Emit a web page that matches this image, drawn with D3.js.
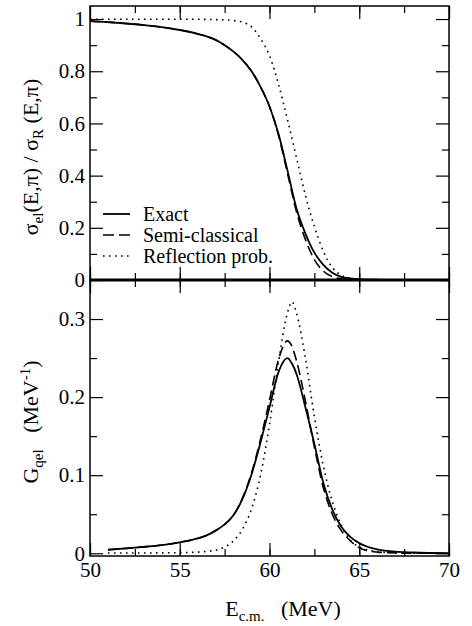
<!DOCTYPE html>
<html lang="en">
<head>
    <meta charset="UTF-8">
    <script src="https://d3js.org/d3.v7.min.js"></script>
    <title>Elastic and quasi-elastic</title>
    <style>
        body { margin: 0; background: #fff; }
        text { font-family: "Liberation Serif", "Times New Roman", serif; fill: #000; }
    </style>
</head>
<body>
    <div id="chart"></div>
    <script>
        // Top panel: sigma_el / sigma_R vs E
        const energyTop = [50, 51, 52, 53, 54, 55, 56, 57, 57.5, 58, 58.5, 59, 59.5, 60, 60.5, 61, 61.5, 62, 62.5, 63, 63.5, 64, 64.5, 65, 66, 67, 68, 70];
        const exactTop = [0.992, 0.988, 0.983, 0.977, 0.969, 0.958, 0.943, 0.92, 0.9, 0.875, 0.843, 0.80, 0.74, 0.665, 0.56, 0.42, 0.275, 0.178, 0.105, 0.058, 0.028, 0.012, 0.006, 0.003, 0.001, 0.0005, 0, 0];
        const semiTop = [0.992, 0.988, 0.983, 0.977, 0.969, 0.958, 0.943, 0.92, 0.9, 0.875, 0.843, 0.80, 0.74, 0.665, 0.555, 0.41, 0.262, 0.155, 0.078, 0.034, 0.013, 0.005, 0.002, 0.001, 0, 0, 0, 0];
        const reflTop = [0.999, 0.999, 0.999, 0.999, 0.999, 0.999, 0.999, 0.998, 0.997, 0.994, 0.988, 0.97, 0.925, 0.86, 0.75, 0.615, 0.47, 0.325, 0.205, 0.11, 0.048, 0.018, 0.006, 0.002, 0.0005, 0, 0, 0];

        // Bottom panel: G_qel vs E
        const energyBot = [51, 52, 53, 54, 55, 56, 56.5, 57, 57.5, 58, 58.5, 59, 59.5, 60, 60.5, 61, 61.25, 61.5, 62, 62.5, 63, 63.5, 64, 64.5, 65, 65.5, 66, 67, 68, 70];
        const exactBot = [0.0045, 0.0062, 0.0082, 0.0105, 0.014, 0.019, 0.023, 0.029, 0.037, 0.049, 0.07, 0.101, 0.142, 0.187, 0.232, 0.25, 0.243, 0.23, 0.187, 0.14, 0.09, 0.056, 0.034, 0.021, 0.013, 0.008, 0.005, 0.002, 0.001, 0];
        const semiBot = [0.0045, 0.0062, 0.0082, 0.0105, 0.014, 0.019, 0.023, 0.029, 0.037, 0.049, 0.071, 0.103, 0.146, 0.196, 0.248, 0.272, 0.265, 0.247, 0.195, 0.136, 0.084, 0.05, 0.029, 0.016, 0.007, 0.003, 0.0015, 0.0005, 0, 0];
        const reflBot = [0.0003, 0.0003, 0.0004, 0.0005, 0.0008, 0.0015, 0.0025, 0.004, 0.008, 0.016, 0.031, 0.057, 0.1, 0.165, 0.245, 0.308, 0.322, 0.308, 0.25, 0.175, 0.112, 0.066, 0.036, 0.017, 0.008, 0.004, 0.002, 0.0005, 0, 0];

        const xTicks = [50, 55, 60, 65, 70];
        const yTicksTop = [0, 0.2, 0.4, 0.6, 0.8, 1];
        const yTicksBot = [0, 0.1, 0.2, 0.3];
        const legendLabels = ["Exact", "Semi-classical", "Reflection prob."];

        const width = 472;
        const height = 626;
        const left = 90, right = 449;
        const topY0 = 6, topY1 = 280;
        const botY0 = 280, botY1 = 556;

        const styles = [
            { width: 1.8, dash: null },
            { width: 1.6, dash: "10,5" },
            { width: 1.6, dash: "1.6,4.4" }
        ];

        const svg = d3.select("#chart")
            .append("svg")
            .attr("width", width)
            .attr("height", height);

        const x = d3.scaleLinear().domain([50, 70]).range([left, right]);
        const yTop = d3.scaleLinear().domain([0, 1.05]).range([topY1, topY0]);
        const yBot = d3.scaleLinear().domain([-0.0035, 0.35]).range([botY1, botY0]);

        // draws ticks pointing inside a panel
        function panelAxes(y, y0, y1, majors, minors, xLabels) {
            const g = svg.append('g');
            const xMin = d3.range(50, 70.1, 2.5);

            g.append('g').attr('transform', `translate(0,${y1})`)
                .call(d3.axisBottom(x).tickValues(xMin).tickSize(-7).tickFormat(''));
            g.append('g').attr('transform', `translate(0,${y1})`)
                .call(d3.axisBottom(x).tickValues(xTicks).tickSize(-13).tickPadding(6)
                    .tickFormat(xLabels ? d3.format('d') : ''));
            g.append('g').attr('transform', `translate(0,${y0})`)
                .call(d3.axisTop(x).tickValues(xMin).tickSize(-7).tickFormat(''));
            g.append('g').attr('transform', `translate(0,${y0})`)
                .call(d3.axisTop(x).tickValues(xTicks).tickSize(-13).tickFormat(''));

            g.append('g').attr('transform', `translate(${left},0)`)
                .call(d3.axisLeft(y).tickValues(minors).tickSize(-7).tickFormat(''));
            g.append('g').attr('transform', `translate(${left},0)`)
                .call(d3.axisLeft(y).tickValues(majors).tickSize(-13).tickPadding(5)
                    .tickFormat(d => d3.format('')(d)));
            g.append('g').attr('transform', `translate(${right},0)`)
                .call(d3.axisRight(y).tickValues(minors).tickSize(-7).tickFormat(''));
            g.append('g').attr('transform', `translate(${right},0)`)
                .call(d3.axisRight(y).tickValues(majors).tickSize(-13).tickFormat(''));

            g.selectAll('.domain').remove();
            g.selectAll('.tick line').attr('stroke', '#000').attr('stroke-width', 1.2);
            g.selectAll('.tick text').attr('font-size', 21)
                .style('font-family', '"Liberation Serif", "Times New Roman", serif');

            g.append('rect')
                .attr('x', left).attr('y', y0)
                .attr('width', right - left).attr('height', y1 - y0)
                .attr('fill', 'none').attr('stroke', '#000').attr('stroke-width', 1.5);
        }

        panelAxes(yTop, topY0, topY1, yTicksTop, [0.1, 0.3, 0.5, 0.7, 0.9], false);
        panelAxes(yBot, botY0, botY1, yTicksBot, [0.05, 0.15, 0.25], true);

        // thick shared line between the panels
        svg.append('line')
            .attr('x1', left).attr('x2', right)
            .attr('y1', yTop(0)).attr('y2', yTop(0))
            .attr('stroke', '#000').attr('stroke-width', 3);

        function drawSeries(y, energies, values, st) {
            const line = d3.line()
                .x((d, i) => x(energies[i]))
                .y(d => y(d))
                .curve(d3.curveMonotoneX);
            svg.append('path')
                .datum(values)
                .attr('fill', 'none')
                .attr('stroke', '#000')
                .attr('stroke-width', st.width)
                .attr('stroke-dasharray', st.dash)
                .attr('d', line);
        }

        [exactTop, semiTop, reflTop].forEach((v, i) => drawSeries(yTop, energyTop, v, styles[i]));
        [exactBot, semiBot, reflBot].forEach((v, i) => drawSeries(yBot, energyBot, v, styles[i]));

        // Legend
        const legend = svg.append('g');
        legendLabels.forEach((lab, i) => {
            const ly = 214 + i * 21;
            legend.append('line')
                .attr('x1', 103).attr('x2', 130)
                .attr('y1', ly).attr('y2', ly)
                .attr('stroke', '#000')
                .attr('stroke-width', styles[i].width)
                .attr('stroke-dasharray', i === 1 ? "11,5" : styles[i].dash);
            legend.append('text')
                .attr('x', 143).attr('y', ly)
                .attr('dy', '0.33em')
                .attr('font-size', 20)
                .text(lab);
        });

        // Axis titles
        const t1 = svg.append('text')
            .attr('transform', 'translate(38,157) rotate(-90)')
            .attr('text-anchor', 'middle')
            .attr('font-size', 22);
        t1.append('tspan').text('σ');
        t1.append('tspan').attr('font-size', 15).attr('dy', 5).text('el');
        t1.append('tspan').attr('dy', -5).text('(E,π) / σ');
        t1.append('tspan').attr('font-size', 15).attr('dy', 5).text('R');
        t1.append('tspan').attr('dy', -5).text(' (E,π)');

        const t2 = svg.append('text')
            .attr('transform', 'translate(38,422) rotate(-90)')
            .attr('text-anchor', 'middle')
            .attr('font-size', 22)
            .attr('xml:space', 'preserve');
        t2.append('tspan').text('G');
        t2.append('tspan').attr('font-size', 15).attr('dy', 5).text('qel');
        t2.append('tspan').attr('dy', -5).text('   (MeV');
        t2.append('tspan').attr('font-size', 15).attr('dy', -8).text('-1');
        t2.append('tspan').attr('dy', 8).text(')');

        const t3 = svg.append('text')
            .attr('x', 283).attr('y', 616)
            .attr('text-anchor', 'middle')
            .attr('font-size', 22)
            .attr('xml:space', 'preserve');
        t3.append('tspan').text('E');
        t3.append('tspan').attr('font-size', 15).attr('dy', 5).text('c.m.');
        t3.append('tspan').attr('dy', -5).text('   (MeV)');
    </script>
</body>
</html>
